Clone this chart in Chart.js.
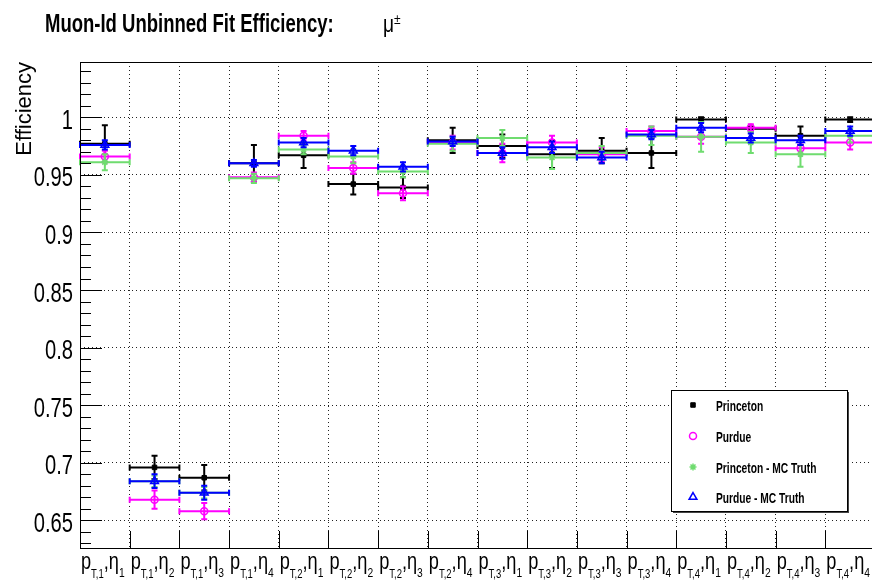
<!DOCTYPE html>
<html>
<head>
<meta charset="utf-8">
<title>Muon-Id Unbinned Fit Efficiency</title>
<script src="https://cdn.jsdelivr.net/npm/chart.js@4.4.1/dist/chart.umd.min.js"></script>
<style>
  html, body { margin: 0; padding: 0; background: #fff; overflow: hidden; }
  #wrap { width: 880px; height: 586px; }
</style>
</head>
<body>
<div id="wrap"><canvas id="effChart"></canvas></div>
<script>
// === Data ===
// bins run pT1/eta1, pT1/eta2 ... pT4/eta4
const ptIndex  = [1, 1, 1, 1, 2, 2, 2, 2, 3, 3, 3, 3, 4, 4, 4, 4];
const etaIndex = [1, 2, 3, 4, 1, 2, 3, 4, 1, 2, 3, 4, 1, 2, 3, 4];

const princeton      = [0.977, 0.696, 0.687, 0.960, 0.967, 0.942, 0.939, 0.980, 0.975, 0.968, 0.971, 0.969, 0.998, 0.990, 0.984, 0.998];
const princetonErr   = [0.016, 0.010, 0.011, 0.016, 0.011, 0.009, 0.009, 0.011, 0.010, 0.012, 0.011, 0.013, 0.002, 0.002, 0.008, 0.002];
const purdue         = [0.966, 0.668, 0.658, 0.948, 0.984, 0.956, 0.934, 0.978, 0.969, 0.978, 0.968, 0.988, 0.983, 0.991, 0.973, 0.978];
const purdueErr      = [0.005, 0.008, 0.007, 0.004, 0.004, 0.005, 0.006, 0.006, 0.008, 0.006, 0.006, 0.004, 0.006, 0.003, 0.005, 0.006];
const princetonMC    = [0.961, 0.684, 0.674, 0.947, 0.972, 0.966, 0.953, 0.977, 0.982, 0.965, 0.969, 0.984, 0.983, 0.978, 0.968, 0.984];
const princetonMCErr = [0.007, 0.005, 0.005, 0.004, 0.004, 0.006, 0.005, 0.006, 0.007, 0.010, 0.006, 0.008, 0.013, 0.009, 0.011, 0.006];
const purdueMC       = [0.976, 0.684, 0.674, 0.960, 0.978, 0.971, 0.957, 0.979, 0.969, 0.974, 0.965, 0.985, 0.991, 0.982, 0.980, 0.988];
const purdueMCErr    = [0.004, 0.006, 0.006, 0.003, 0.004, 0.004, 0.004, 0.004, 0.005, 0.005, 0.005, 0.004, 0.004, 0.004, 0.004, 0.004];

const yTicks = [0.65, 0.7, 0.75, 0.8, 0.85, 0.9, 0.95, 1];
const yMin = 0.626, yMax = 1.048;

const FONT = '"Liberation Sans", Arial, Helvetica, sans-serif';

// === Helpers ===

function toPoints(values, errs) {
  return values.map((v, i) => ({ x: i + 0.5, y: v, err: errs[i] }));
}

// draw text squeezed horizontally (the ROOT picture uses a narrow face)
function drawText(ctx, str, x, y, font, sx, align) {
  ctx.save();
  ctx.font = font;
  ctx.textAlign = "left";
  ctx.textBaseline = "alphabetic";
  const w = ctx.measureText(str).width * sx;
  let x0 = x;
  if (align === "right") x0 = x - w;
  else if (align === "center") x0 = x - w / 2;
  ctx.translate(x0, y);
  ctx.scale(sx, 1);
  ctx.fillText(str, 0, 0);
  ctx.restore();
  return w;
}

// === Plugins ===

const errorBars = {
  id: "errorBars",
  beforeDatasetDraw(chart, args) {
    const ds = chart.data.datasets[args.index];
    const xs = chart.scales.x, ys = chart.scales.y;
    const ctx = chart.ctx;
    ctx.save();
    ctx.strokeStyle = ds.borderColor;
    ctx.lineWidth = 2;
    ds.data.forEach(p => {
      const xl = xs.getPixelForValue(p.x - 0.5);
      const xr = xs.getPixelForValue(p.x + 0.5);
      const xc = xs.getPixelForValue(p.x);
      const yc = ys.getPixelForValue(p.y);
      const yt = ys.getPixelForValue(p.y + p.err);
      const yb = ys.getPixelForValue(p.y - p.err);
      ctx.beginPath();
      ctx.moveTo(xl, yc); ctx.lineTo(xr, yc);
      ctx.moveTo(xl, yc - 3); ctx.lineTo(xl, yc + 3);
      ctx.moveTo(xr, yc - 3); ctx.lineTo(xr, yc + 3);
      ctx.moveTo(xc, yt); ctx.lineTo(xc, yb);
      ctx.moveTo(xc - 3, yt); ctx.lineTo(xc + 3, yt);
      ctx.moveTo(xc - 3, yb); ctx.lineTo(xc + 3, yb);
      ctx.stroke();
    });
    ctx.restore();
  }
};

const frame = {
  id: "frame",
  afterDatasetsDraw(chart) {
    const ctx = chart.ctx;
    const a = chart.chartArea;
    const xs = chart.scales.x, ys = chart.scales.y;

    ctx.save();
    ctx.strokeStyle = "#000";
    ctx.lineWidth = 1;

    // frame
    ctx.strokeRect(Math.round(a.left) + 0.5, Math.round(a.top) + 0.5,
                   Math.round(a.right - a.left), Math.round(a.bottom - a.top));

    // y ticks (minor every 0.01, major every 0.05)
    ctx.beginPath();
    for (let k = 63; k <= 104; k++) {
      const v = k / 100;
      const py = Math.round(ys.getPixelForValue(v)) + 0.5;
      const len = (k % 5 === 0) ? 22 : 11;
      ctx.moveTo(a.left, py);
      ctx.lineTo(a.left + len, py);
    }
    // x ticks at bin edges
    for (let i = 1; i < ptIndex.length; i++) {
      const px = Math.round(xs.getPixelForValue(i)) + 0.5;
      ctx.moveTo(px, a.bottom);
      ctx.lineTo(px, a.bottom - 17);
    }
    ctx.stroke();

    ctx.fillStyle = "#000";

    // y tick labels
    yTicks.forEach(v => {
      const py = ys.getPixelForValue(v);
      drawText(ctx, String(v), a.left - 7, py + 11.5, "28px " + FONT, 0.72, "right");
    });

    // x bin labels: p_{T,i},eta_j
    ptIndex.forEach((pt, i) => {
      const x0 = xs.getPixelForValue(i) + 1;
      const target = xs.getPixelForValue(1) - xs.getPixelForValue(0) - 6;
      const parts = [
        { t: "p", f: "23px " + FONT, dy: 0 },
        { t: "T," + pt, f: "12px " + FONT, dy: 9 },
        { t: ",", f: "23px " + FONT, dy: 0 },
        { t: "\u03b7", f: "23px " + FONT, dy: 0 },
        { t: String(etaIndex[i]), f: "13px " + FONT, dy: 8 }
      ];
      let natural = 0;
      parts.forEach(p => { ctx.font = p.f; natural += ctx.measureText(p.t).width; });
      const sx = target / natural;
      let cx = x0;
      parts.forEach(p => {
        cx += drawText(ctx, p.t, cx, 569 + p.dy, p.f, sx, "left");
      });
    });

    // y axis title
    ctx.save();
    ctx.translate(31, a.top);
    ctx.rotate(-Math.PI / 2);
    ctx.font = "22px " + FONT;
    ctx.textAlign = "right";
    ctx.textBaseline = "alphabetic";
    ctx.fillText("Efficiency", 0, 0);
    ctx.restore();

    // title
    drawText(ctx, "Muon-Id Unbinned Fit Efficiency:", 45, 32, "bold 25px " + FONT, 0.74, "left");
    drawText(ctx, "\u03bc", 383, 32, "24px " + FONT, 0.8, "left");
    drawText(ctx, "\u00b1", 394, 24, "15px " + FONT, 0.8, "left");

    // legend box
    ctx.fillStyle = "#fff";
    ctx.fillRect(672, 391, 176, 121);
    ctx.strokeStyle = "#000";
    ctx.lineWidth = 1;
    ctx.strokeRect(671.5, 390.5, 176, 121);
    ctx.fillStyle = "#444";
    ctx.fillRect(848, 392, 1, 121);
    ctx.fillRect(673, 512, 176, 1);

    const rows = [405, 436, 467, 497];
    chart.data.datasets.forEach((ds, i) => {
      const y = rows[i];
      ctx.save();
      ctx.fillStyle = ds.backgroundColor;
      ctx.strokeStyle = ds.borderColor;
      ctx.lineWidth = ds.pointBorderWidth;
      Chart.helpers.drawPoint(ctx, {
        pointStyle: ds.pointStyle, radius: ds.pointRadius, rotation: 0,
        borderWidth: ds.pointBorderWidth
      }, 693, y);
      ctx.restore();
      ctx.fillStyle = "#000";
      drawText(ctx, ds.label, 716, y + 5.5, "bold 14px " + FONT, 0.73, "left");
    });

    ctx.restore();
  }
};

// === Chart ===

function initializeChart() {
  const ctx = document.getElementById("effChart");

  const datasets = [
    { label: "Princeton", data: toPoints(princeton, princetonErr),
      pointStyle: "rect", pointRadius: 3.2, pointBorderWidth: 1,
      backgroundColor: "#000000", borderColor: "#000000", order: 4 },
    { label: "Purdue", data: toPoints(purdue, purdueErr),
      pointStyle: "circle", pointRadius: 3.5, pointBorderWidth: 1.5,
      backgroundColor: "rgba(0,0,0,0)", borderColor: "#ff00ff", order: 3 },
    { label: "Princeton - MC Truth", data: toPoints(princetonMC, princetonMCErr),
      pointStyle: "star", pointRadius: 3.5, pointBorderWidth: 1.5,
      backgroundColor: "#6fdc6f", borderColor: "#6fdc6f", order: 2 },
    { label: "Purdue - MC Truth", data: toPoints(purdueMC, purdueMCErr),
      pointStyle: "triangle", pointRadius: 4.5, pointBorderWidth: 1.5,
      backgroundColor: "rgba(0,0,0,0)", borderColor: "#0000ff", order: 1 }
  ];

  return new Chart(ctx, {
    type: "scatter",
    data: { datasets: datasets },
    options: {
      responsive: true,
      maintainAspectRatio: false,
      animation: false,
      devicePixelRatio: 1,
      layout: { autoPadding: false, padding: { top: 62, right: 5, left: 0, bottom: 0 } },
      plugins: { legend: { display: false }, tooltip: { enabled: false } },
      scales: {
        x: {
          type: "linear", min: 0, max: ptIndex.length,
          afterFit(s) { s.height = 38; },
          afterBuildTicks(s) {
            s.ticks = ptIndex.slice(1).map((_, i) => ({ value: i + 1 }));
          },
          ticks: { display: false },
          grid: { color: "#222", lineWidth: 1, drawTicks: false },
          border: { display: false, dash: [1, 3] }
        },
        y: {
          type: "linear", min: yMin, max: yMax,
          afterFit(s) { s.width = 80; },
          afterBuildTicks(s) { s.ticks = yTicks.map(v => ({ value: v })); },
          ticks: { display: false },
          grid: { color: "#222", lineWidth: 1, drawTicks: false },
          border: { display: false, dash: [1, 3] }
        }
      }
    },
    plugins: [errorBars, frame]
  });
}

document.addEventListener("DOMContentLoaded", () => {
  initializeChart();
});
</script>
</body>
</html>
